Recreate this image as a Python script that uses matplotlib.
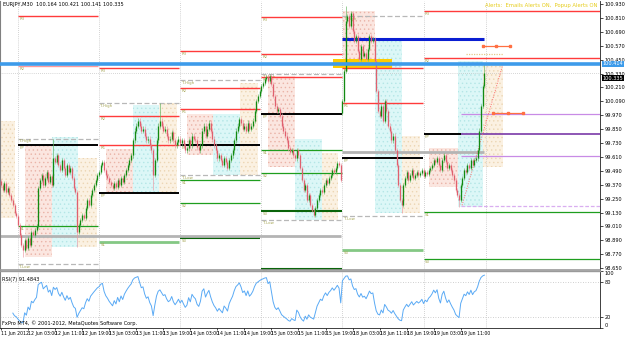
import matplotlib
matplotlib.use("Agg")
import matplotlib.pyplot as plt
from matplotlib.patches import Rectangle
from matplotlib.transforms import blended_transform_factory
import numpy as np

plt.rcParams['font.family'] = ['DejaVu Sans']
plt.rcParams['hatch.linewidth'] = 0.5

# ---------------- texts ----------------
symbol_title = "EURJPY,M30  100.164 100.421 100.141 100.335"
alerts_text = "Alerts:  Emails Alerts ON,  Popup Alerts ON"
rsi_title = "RSI(7) 91.4843"
copyright_text = "FxPro MT4, \u00a9 2001-2012, MetaQuotes Software Corp."

# ---------------- time axis ----------------
bars_per_day = [10, 48, 48, 48, 48, 48, 37]   # 11 Jun (from 19:00) .. 19 Jun (to 18:00)
time_labels = ["11 Jun 2012", "12 Jun 03:00", "12 Jun 11:00", "12 Jun 19:00",
               "13 Jun 03:00", "13 Jun 11:00", "13 Jun 19:00", "14 Jun 03:00",
               "14 Jun 11:00", "14 Jun 19:00", "15 Jun 03:00", "15 Jun 11:00",
               "15 Jun 19:00", "18 Jun 03:00", "18 Jun 11:00", "18 Jun 19:00",
               "19 Jun 03:00", "19 Jun 11:00"]
bars_per_label = 16

# ---------------- price data (M30 closes) ----------------
closes = [
    99.365, 99.322, 99.382, 99.305, 99.339, 99.279, 99.236, 99.193, 99.124, 99.098,
    99.021, 98.935, 98.849, 98.806, 98.892, 98.823, 98.909, 98.849, 98.961, 98.935, 98.978, 99.012,
    99.339,
    99.408, 99.451, 99.365, 99.425, 99.477, 99.391, 99.442, 99.365,
    99.597,
    99.563, 99.623, 99.537, 99.494, 99.580, 99.511, 99.451, 99.537, 99.477, 99.511, 99.425, 99.339, 99.305,
    98.961,
    99.021, 99.064, 99.107, 99.081, 99.167, 99.236, 99.193, 99.279, 99.322, 99.365, 99.408, 99.451, 99.477,
    99.537, 99.563, 99.494, 99.451, 99.425, 99.391, 99.365, 99.339,
    99.382, 99.348, 99.408, 99.365, 99.425, 99.391,
    99.451, 99.494, 99.537, 99.580, 99.623, 99.752,
    99.838, 99.881, 99.924, 99.881,
    99.838, 99.855, 99.795, 99.752, 99.769, 99.709, 99.666,
    99.451, 99.580,
    99.752, 99.881, 99.924,
    99.881, 99.838, 99.855, 99.795, 99.752, 99.769, 99.821, 99.752, 99.709, 99.735, 99.769, 99.726,
    99.752, 99.709, 99.666, 99.683, 99.752, 99.709, 99.795, 99.769, 99.752, 99.692, 99.666, 99.709,
    99.838, 99.881, 99.795, 99.855, 99.907, 99.838, 99.769,
    99.709, 99.666, 99.597, 99.623, 99.580,
    99.537, 99.597, 99.563, 99.511, 99.580, 99.623, 99.666,
    99.752, 99.838, 99.881, 99.941, 99.907, 99.855,
    99.881, 99.838, 99.907, 99.855, 99.881, 99.924,
    100.010, 100.096, 100.139, 100.182, 100.225, 100.251, 100.285, 100.302,
    100.268, 100.311, 100.242,
    100.139, 100.053, 100.010, 100.027, 99.967,
    99.881, 99.838, 99.795, 99.752,
    99.683, 99.649, 99.666, 99.623, 99.597, 99.666, 99.623, 99.511,
    99.408, 99.322, 99.365, 99.236, 99.279, 99.193,
    99.150, 99.107, 99.167, 99.236,
    99.279, 99.322, 99.305, 99.365, 99.408, 99.382, 99.425, 99.451, 99.494, 99.477, 99.511, 99.554, 99.537, 99.408,
    100.096,
    100.354, 100.784, 100.827, 100.741, 100.853,
    100.698, 100.612, 100.655,
    100.526, 100.457, 100.569, 100.483,
    100.509, 100.457, 100.543,
    100.655, 100.612, 100.629,
    100.440, 100.182, 100.010, 99.967,
    100.053, 99.924, 100.096, 100.010, 99.881,
    99.838, 99.752, 99.795, 99.666,
    99.537, 99.365, 99.236, 99.193,
    99.365, 99.425, 99.477, 99.408, 99.451, 99.494, 99.425, 99.451, 99.477,
    99.451, 99.468, 99.494, 99.442, 99.477, 99.460, 99.494, 99.511,
    99.537, 99.580, 99.563, 99.597, 99.537, 99.494, 99.580, 99.623, 99.563, 99.511, 99.537, 99.494,
    99.451, 99.408, 99.322, 99.279, 99.236,
    99.365, 99.425, 99.494, 99.477, 99.537, 99.511, 99.580, 99.537, 99.580, 99.597, 99.666,
    99.838, 100.053, 100.225, 100.335,
]
first_open = 99.400
gap_opens = {202: 99.990}
spike_highs = {31: 99.769, 94: 100.079, 158: 100.330, 204: 100.913, 286: 100.421}
spike_lows = {13: 98.746, 45: 98.832, 90: 99.322, 237: 99.124, 271: 99.176}

# ---------------- daily pivot levels ----------------
pivots_12jun = {"R3": 100.827, "R2": 100.397, "T.High": 99.769, "PP": 99.709, "S1": 99.012, "T.Low": 98.686}
pivots_13jun = {"R3": 100.380, "T.High": 100.079, "R2": 99.967, "R1": 99.709, "PP": 99.296, "S1": 98.875}
pivots_14jun = {"R3": 100.526, "T.High": 100.277, "R2": 100.208, "R1": 100.027, "PP": 99.709,
                "T.Low": 99.451, "S1": 99.408, "S2": 99.210, "S3": 98.909}
pivots_15jun = {"R3": 100.818, "R2": 100.500, "T.High": 100.328, "R1": 100.302, "PP": 99.984,
                "S1": 99.666, "S2": 99.468, "S3": 99.141, "T.Low": 99.064, "S4": 98.642}
pivots_18jun = {"T.High": 100.827, "R2": 100.380, "R1": 100.079, "PP": 99.597, "T.Low": 99.098, "S3": 98.806}
pivots_19jun = {"R3": 100.870, "R2": 100.466, "PP": 99.804, "S1": 99.133, "S3": 98.729}
daily_pivots = [pivots_12jun, pivots_13jun, pivots_14jun, pivots_15jun, pivots_18jun, pivots_19jun]

# session boxes: (first bar, last bar, session high, session low, session)
session_boxes = [
    (-0.5, 8, 99.924, 99.081, "us"),
    (14, 30, 99.709, 98.746, "asia"), (30, 45.5, 99.778, 98.832, "europe"), (45.5, 57, 99.597, 98.832, "us"),
    (62, 78, 99.675, 99.296, "asia"), (78, 93.5, 100.062, 99.296, "europe"), (93.5, 104, 100.079, 99.296, "us"),
    (110, 125.5, 99.984, 99.623, "asia"), (125.5, 141.5, 99.984, 99.451, "europe"), (141.5, 152, 100.251, 99.451, "us"),
    (158, 174, 100.311, 99.520, "asia"), (174, 190, 99.769, 99.064, "europe"), (190, 199.5, 99.640, 99.064, "us"),
    (202.5, 221.5, 100.870, 100.380, "asia"), (221.5, 237.5, 100.629, 99.124, "europe"), (237.5, 248, 99.795, 99.124, "us"),
    (253, 270.5, 99.683, 99.348, "asia"), (270.5, 285, 100.440, 99.176, "europe"), (285, 297, 100.414, 99.520, "us"),
]

# other drawn objects
blue_level = 100.414
darkblue_level = (202, 286, 100.629)
yellow_zone = (196.5, 231.5, 100.380, 100.457)
gray_levels = [(-0.6, 201, 98.926), (202, 286, 99.649)]
purple_levels = [(272, 99.984, "R1"), (272, 99.804, "PP"), (272, 99.614, "S1")]
purple_dashed = (272, 99.184)
orange_segments = [(285, 301, 100.569), (291, 309, 99.993)]
tan_dotted = (275, 297, 100.500)
trend_line = [(272.8, 99.193), (297, 100.414)]
last_price = 100.335

price_ticks = [round(98.65 + 0.12 * k, 3) for k in range(20)]

# ---------------- derived ----------------
n = len(closes)
idx = np.arange(n)
opens = [first_open] + closes[:-1]
for k, v in gap_opens.items():
    opens[k] = v
wick = 0.018
highs = [max(o, c) + wick for o, c in zip(opens, closes)]
lows = [min(o, c) - wick for o, c in zip(opens, closes)]
for k, v in spike_highs.items():
    highs[k] = v
for k, v in spike_lows.items():
    lows[k] = v

day_starts = list(np.cumsum(bars_per_day))  # midnights of 12,13,14,15,18,19,20 Jun
X_MAX = 354.4
X_MIN = -0.6


def rsi(c, period=7):
    c = np.asarray(c, float)
    d = np.diff(c)
    up = np.where(d > 0, d, 0.0)
    dn = np.where(d < 0, -d, 0.0)
    out = np.full(len(c), np.nan)
    au = up[:period].mean()
    ad = dn[:period].mean()
    out[period] = 100 - 100 / (1 + au / ad) if ad > 0 else 100
    for i in range(period + 1, len(c)):
        au = (au * (period - 1) + up[i - 1]) / period
        ad = (ad * (period - 1) + dn[i - 1]) / period
        out[i] = 100 - 100 / (1 + au / ad) if ad > 0 else 100
    return out


rsi_vals = rsi(closes, 7)

# ---------------- figure ----------------
W, H = 625, 338
fig = plt.figure(figsize=(W / 100, H / 100), dpi=100)
fig.patch.set_facecolor("white")
ax = fig.add_axes([0, 1 - 270 / H, 600 / W, 269 / H])
axr = fig.add_axes([0, 1 - 328 / H, 600 / W, 57 / H])

ax.set_xlim(X_MIN, X_MAX)
ax.set_ylim(98.634, 100.956)
axr.set_xlim(X_MIN, X_MAX)
axr.set_ylim(0, 100)

# session boxes
box_style = {"asia": ("#fbe6e0", "#eab4a8"),
             "europe": ("#dcf7f7", "#b4e6e6"),
             "us": ("#fbf1e2", "#ecd6b4")}
for x0, x1, hi, lo, kind in session_boxes:
    fc, hc = box_style[kind]
    ax.add_patch(Rectangle((x0, lo), x1 - x0, hi - lo, facecolor=fc, edgecolor=hc,
                           hatch="....", linewidth=0, zorder=1))

# yellow zone
ax.add_patch(Rectangle((yellow_zone[0], yellow_zone[2]), yellow_zone[1] - yellow_zone[0],
                       yellow_zone[3] - yellow_zone[2], facecolor="#ffcc00", edgecolor="none", zorder=2))

# day separators
for d in day_starts:
    ax.axvline(d, color="#c4c4c4", lw=0.6, ls=(0, (1, 1.5)), zorder=1.5)
    axr.axvline(d, color="#c4c4c4", lw=0.6, ls=(0, (1, 1.5)), zorder=1.5)

# pivot lines
def level_style(name, day):
    if name.startswith("R"):
        if day == 0 and name == "R2":
            return dict(color="#ff9a9a", lw=1.0, ls="-")
        return dict(color="#ff3b3b", lw=1.0, ls="-")
    if name == "PP":
        return dict(color="#000000", lw=1.4, ls="-")
    if name.startswith("T."):
        return dict(color="#b8b8b8", lw=0.9, ls=(0, (4, 2)))
    if (day == 1 and name == "S1") or (day == 4 and name == "S3"):
        return dict(color="#84c884", lw=2.0, ls="-")
    if name in ("S3", "S4") and day in (2, 3):
        return dict(color="#0a640a", lw=1.5, ls="-")
    return dict(color="#1e9e1e", lw=0.9, ls="-")

for day, piv in enumerate(daily_pivots):
    x0 = day_starts[day]
    x1 = day_starts[day + 1] - 0.5 if day < 5 else X_MAX
    for name, price in piv.items():
        st = level_style(name, day)
        xe = x1
        if day == 5 and name == "PP":
            xe = purple_levels[1][0]
        ax.hlines(price, x0, xe, colors=st["color"], lw=st["lw"], linestyles=st["ls"], zorder=2)
        ax.text(x0 + 0.8, price - 0.008, name, fontsize=2.8, color="#a6a655", va="top", ha="left", zorder=2)

# long lines
for x0, x1, p in gray_levels:
    ax.hlines(p, x0, x1, colors="#b4b4b4", lw=2.0, zorder=2.2)
ax.hlines(darkblue_level[2], darkblue_level[0], darkblue_level[1], colors="#0a1ed2", lw=2.2, zorder=2.5)
for x0, p, lab in purple_levels:
    col = "#7a3aa8" if lab == "PP" else "#c88be6"
    ax.hlines(p, x0, X_MAX, colors=col, lw=1.2 if lab == "PP" else 0.9, zorder=2.3)
ax.hlines(purple_dashed[1], purple_dashed[0], X_MAX, colors="#d9aef0", lw=0.9, linestyles=(0, (3, 1.5)), zorder=2.3)
for x0, x1, p in orange_segments:
    ax.plot([x0, (x0 + x1) / 2, x1], [p, p, p], color="#ff7043", lw=0.9, marker="s", ms=1.6, zorder=3)
ax.hlines(tan_dotted[2], tan_dotted[0], tan_dotted[1], colors="#e4c98a", lw=0.9, linestyles=(0, (1, 1)), zorder=2.3)
ax.plot([trend_line[0][0], trend_line[1][0]], [trend_line[0][1], trend_line[1][1]],
        color="#ff6a6a", lw=0.7, ls=(0, (1, 1.5)), zorder=3)
ax.axhline(last_price, color="#b0b0b0", lw=0.5, ls=(0, (1, 2)), zorder=2)

# candles
bull_c, bear_c = "#128a12", "#e0606e"
bull_w, bear_w = "#5fb35f", "#eb9aa3"
for i in range(n):
    o, c, h, l = opens[i], closes[i], highs[i], lows[i]
    up = c >= o
    ax.vlines(i, l, h, colors=bull_w if up else bear_w, lw=0.45, zorder=3.5)
    b0, b1 = (o, c) if up else (c, o)
    if b1 - b0 < 0.004:
        b1 = b0 + 0.004
    ax.vlines(i, b0, b1, colors=bull_c if up else bear_c, lw=0.95, zorder=3.6)

ax.axhline(blue_level, color="#3d9bea", lw=2.6, zorder=4)

# axes styling main
ax.yaxis.tick_right()
ax.set_yticks(price_ticks)
ax.set_yticklabels([f"{p:.3f}" for p in price_ticks])
ax.tick_params(axis="y", labelsize=3.6, length=2, width=0.5, pad=1.5, colors="black")
ax.set_xticks([])
ax.spines["top"].set_visible(False)
ax.spines["left"].set_color("#808080")
ax.spines["left"].set_linewidth(0.8)
ax.spines["right"].set_color("#202020")
ax.spines["right"].set_linewidth(0.6)
ax.spines["bottom"].set_color("#9a9a9a")
ax.spines["bottom"].set_linewidth(1.2)

# axis price labels
tr = blended_transform_factory(ax.transAxes, ax.transData)
ax.text(1.004, blue_level, f"{blue_level:.3f}", transform=tr, fontsize=3.6, color="white", va="center",
        ha="left", bbox=dict(boxstyle="square,pad=0.15", fc="#3d9bea", ec="none"), zorder=6, clip_on=False)
ax.text(1.004, last_price - 0.045, f"{last_price:.3f}", transform=tr, fontsize=3.6, color="white", va="center",
        ha="left", bbox=dict(boxstyle="square,pad=0.15", fc="black", ec="none"), zorder=6, clip_on=False)

# RSI panel
axr.plot(idx, rsi_vals, color="#5aaaf5", lw=0.7, zorder=3)
for lev in (20, 80):
    axr.axhline(lev, color="#c0c0c0", lw=0.6, ls=(0, (1, 2)))
axr.yaxis.tick_right()
axr.set_yticks([0, 20, 80, 100])
axr.set_yticklabels(["0", "20", "80", "100"])
axr.tick_params(axis="y", labelsize=3.6, length=2, width=0.5, pad=1.5)
ylabs = axr.get_yticklabels()
ylabs[0].set_va("bottom")
ylabs[-1].set_va("top")
label_pos = [k * bars_per_label for k in range(len(time_labels))]
axr.set_xticks(label_pos)
axr.set_xticklabels(time_labels, family=["Liberation Sans Narrow", "DejaVu Sans"])
axr.tick_params(axis="x", labelsize=3.3, length=1.5, width=0.5, pad=0.5)
for t in axr.get_xticklabels():
    t.set_ha("left")
axr.spines["top"].set_color("#9a9a9a")
axr.spines["top"].set_linewidth(1.0)
axr.spines["left"].set_color("#808080")
axr.spines["right"].set_color("#202020")
axr.spines["right"].set_linewidth(0.6)
axr.spines["bottom"].set_color("#202020")
axr.spines["bottom"].set_linewidth(0.6)
axr.text(0.004, 0.9, rsi_title, transform=axr.transAxes, fontsize=3.6, va="top", ha="left")
axr.text(0.004, 0.04, copyright_text, transform=axr.transAxes, fontsize=3.6, va="bottom", ha="left")

# header texts
fig.text(3 / W, 1 - 4.5 / H, symbol_title, fontsize=3.6, va="center", ha="left")
fig.text(597 / W, 1 - 6 / H, alerts_text, fontsize=3.8, va="center", ha="right", color="#e6cc1a")

fig.savefig("out.png", dpi=100, facecolor="white")
